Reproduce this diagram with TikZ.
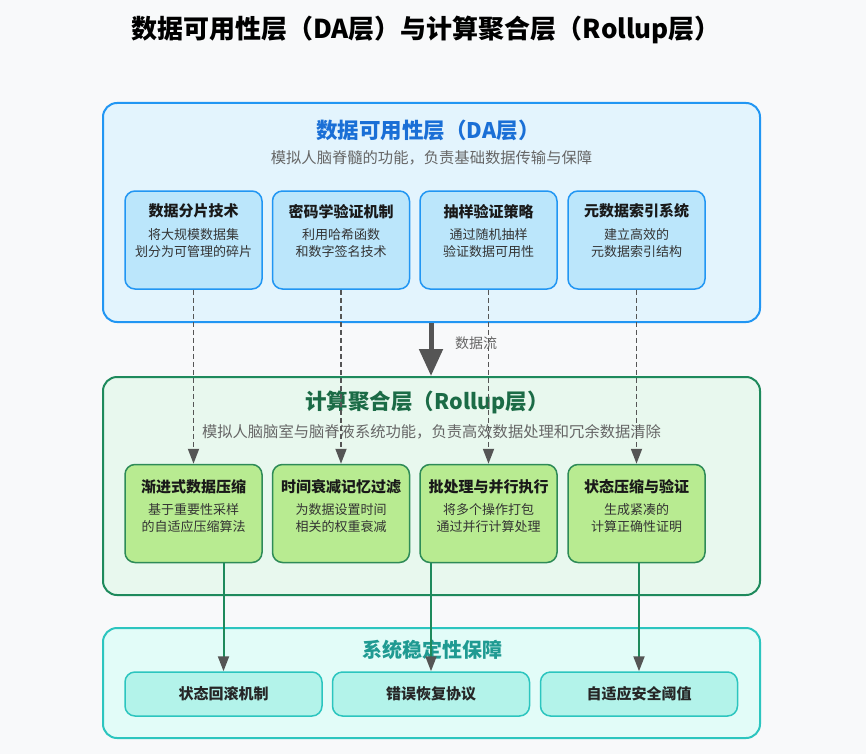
\documentclass[tikz,border=0pt]{standalone}
\usepackage{fontspec}
\setmainfont{Noto Sans CJK SC}
\usepackage{tikz}
\usetikzlibrary{positioning, arrows.meta}

\definecolor{bgcol}{HTML}{F8F9FA}
\definecolor{dafill}{HTML}{E3F4FD}
\definecolor{daline}{HTML}{2196F3}
\definecolor{dasub}{HTML}{BBE6FB}
\definecolor{datitle}{HTML}{1A6FD6}
\definecolor{rufill}{HTML}{E8F8EE}
\definecolor{ruline}{HTML}{1E8A5C}
\definecolor{rusub}{HTML}{B8EB91}
\definecolor{rusubline}{HTML}{2E8B57}
\definecolor{rutitle}{HTML}{1B6B46}
\definecolor{stfill}{HTML}{E2FCF8}
\definecolor{stline}{HTML}{2CC5BF}
\definecolor{stsub}{HTML}{B3F3EA}
\definecolor{sttitle}{HTML}{1F9A92}
\definecolor{arrgray}{HTML}{555555}
\definecolor{subgray}{HTML}{666666}

\begin{document}
\begin{tikzpicture}[x=1pt, y=-1pt,
    layer/.style={draw, line width=2pt, rounded corners=14pt, minimum width=657pt, inner sep=0pt},
    subbox/.style={draw, line width=1.5pt, rounded corners=10pt, minimum width=137pt, minimum height=98pt, inner sep=0pt},
    stbox/.style={draw=stline, fill=stsub, line width=1.5pt, rounded corners=10pt, minimum width=197pt, minimum height=44pt, inner sep=0pt,
        font=\bfseries\fontsize{15}{18}\selectfont, text=black!85},
    laytitle/.style={font=\bfseries\fontsize{21.5}{25}\selectfont},
    laysub/.style={font=\fontsize{15.3}{18}\selectfont, text=subgray},
    boxtitle/.style={font=\bfseries\fontsize{15}{18}\selectfont, text=black!90},
    boxdesc/.style={font=\fontsize{13}{17}\selectfont, text=black!80, align=center},
    dasharrow/.style={draw=arrgray, line width=1.8pt, dash pattern=on 5pt off 3pt, -{Triangle[length=15pt, width=11pt, color=arrgray]}},
    flowarrow/.style={draw=ruline, line width=2pt, -{Triangle[length=15pt, width=11pt, color=arrgray]}}]

\useasboundingbox[fill=bgcol] (0,0) rectangle (866,754);

\node[font=\bfseries\fontsize{26}{30}\selectfont] (title) at (426,30) {数据可用性层（DA层）与计算聚合层（Rollup层）};

\node[layer, draw=daline, fill=dafill, minimum height=219pt] (da) at (431.5,212.5) {};
\node[laytitle, text=datitle] (datxt) at (428,130) {数据可用性层（DA层）};
\node[laysub] (dasubtxt) at (431.5,158) {模拟人脑脊髓的功能，负责基础数据传输与保障};

\node[layer, draw=ruline, fill=rufill, minimum height=218pt] (ru) at (431.5,486) {};
\node[laytitle, text=rutitle] (rutxt) at (427,402) {计算聚合层（Rollup层）};
\node[laysub] (rusubtxt) at (431.5,432) {模拟人脑脑室与脑脊液系统功能，负责高效数据处理和冗余数据清除};

\node[layer, draw=stline, fill=stfill, minimum height=110pt] (st) at (431.5,683) {};
\node[laytitle, font=\bfseries\fontsize{20}{24}\selectfont, text=sttitle] (sttxt) at (432,650) {系统稳定性保障};

\foreach \i/\x/\ttl/\dsc in {1/193.5/数据分片技术/{将大规模数据集\\划分为可管理的碎片},
    2/341/密码学验证机制/{利用哈希函数\\和数字签名技术},
    3/488.5/抽样验证策略/{通过随机抽样\\验证数据可用性},
    4/636.5/元数据索引系统/{建立高效的\\元数据索引结构}}{
  \node[subbox, draw=daline, fill=dasub] (d\i) at (\x,240) {};
  \node[boxtitle] at ([yshift=-21pt]d\i.north) {\ttl};
  \node[boxdesc] at ([yshift=-52.5pt]d\i.north) {\dsc};
}

\foreach \i/\x/\ttl/\dsc in {1/193.5/渐进式数据压缩/{基于重要性采样\\的自适应压缩算法},
    2/341/时间衰减记忆过滤/{为数据设置时间\\相关的权重衰减},
    3/488.5/批处理与并行执行/{将多个操作打包\\通过并行计算处理},
    4/636.5/状态压缩与验证/{生成紧凑的\\计算正确性证明}}{
  \node[subbox, draw=rusubline, fill=rusub] (r\i) at (\x,513.5) {};
  \node[boxtitle] at ([yshift=-23pt]r\i.north) {\ttl};
  \node[boxdesc] at ([yshift=-54.5pt]r\i.north) {\dsc};
}

\node[stbox] (s1) at (223.5,694) {状态回滚机制};
\node[stbox] (s2) at (431,694) {错误恢复协议};
\node[stbox] (s3) at (639,694) {自适应安全阈值};

\foreach \i in {1,...,4}
  \draw[dasharrow] (d\i.south) -- (r\i.north);

\draw[arrgray, line width=5pt, -{Triangle[length=27pt, width=23pt]}] (s2.north |- da.south) -- (s2.north |- ru.north);
\node[font=\fontsize{14}{17}\selectfont, text=subgray] (flow) at (476,343) {数据流};

\draw[flowarrow] (s1.north |- r1.south) -- (s1.north);
\draw[flowarrow] (s2.north |- r3.south) -- (s2.north);
\draw[flowarrow] (s3.north |- r4.south) -- (s3.north);
\end{tikzpicture}
\end{document}
